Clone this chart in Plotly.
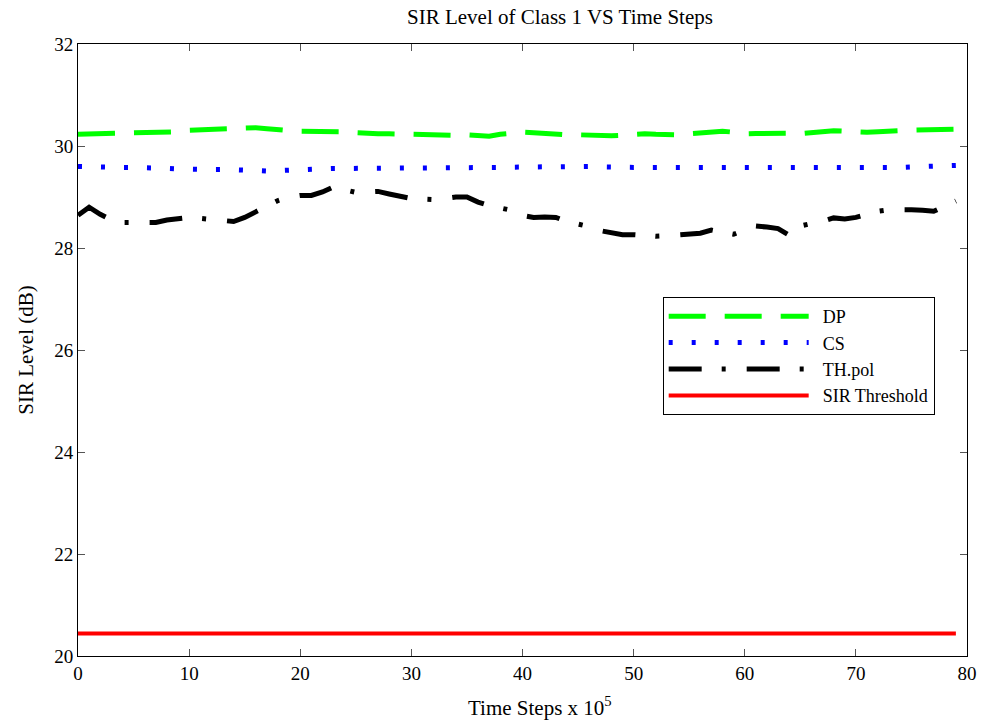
import plotly.graph_objects as go

x_steps = list(range(0, 80))

dp_values = [30.23, 30.235, 30.24, 30.24, 30.25, 30.26, 30.26, 30.26, 30.265, 30.28,
             30.31, 30.32, 30.33, 30.33, 30.34, 30.35, 30.36, 30.34, 30.31, 30.30,
             30.29, 30.29, 30.29, 30.29, 30.28, 30.26, 30.24, 30.24, 30.24, 30.235,
             30.23, 30.22, 30.21, 30.20, 30.21, 30.22, 30.21, 30.19, 30.23, 30.25,
             30.27, 30.26, 30.24, 30.22, 30.22, 30.22, 30.21, 30.20, 30.20, 30.21,
             30.23, 30.24, 30.23, 30.22, 30.22, 30.24, 30.26, 30.28, 30.29, 30.27,
             30.24, 30.245, 30.25, 30.26, 30.25, 30.24, 30.26, 30.28, 30.30, 30.29,
             30.27, 30.27, 30.28, 30.30, 30.30, 30.31, 30.31, 30.32, 30.33, 30.33]

cs_values = [29.60, 29.59, 29.58, 29.58, 29.58, 29.58, 29.58, 29.575, 29.56, 29.55,
             29.54, 29.54, 29.54, 29.54, 29.54, 29.54, 29.52, 29.51, 29.52, 29.54,
             29.55, 29.56, 29.56, 29.56, 29.56, 29.56, 29.57, 29.58, 29.58, 29.58,
             29.58, 29.58, 29.58, 29.57, 29.57, 29.56, 29.56, 29.57, 29.58, 29.585,
             29.59, 29.595, 29.60, 29.60, 29.60, 29.60, 29.60, 29.59, 29.58, 29.58,
             29.58, 29.58, 29.58, 29.58, 29.58, 29.58, 29.58, 29.58, 29.58, 29.58,
             29.58, 29.58, 29.58, 29.58, 29.57, 29.56, 29.56, 29.56, 29.57, 29.58,
             29.58, 29.58, 29.58, 29.58, 29.58, 29.59, 29.60, 29.61, 29.62, 29.62]

th_values = [28.64, 28.80, 28.66, 28.55, 28.50, 28.50, 28.52, 28.50, 28.55, 28.58,
             28.60, 28.58, 28.56, 28.56, 28.52, 28.60, 28.72, 28.82, 28.93, 29.00,
             29.03, 29.03, 29.10, 29.20, 29.14, 29.09, 29.10, 29.11, 29.06, 29.01,
             28.97, 28.96, 28.95, 28.97, 29.00, 29.00, 28.90, 28.83, 28.79, 28.74,
             28.64, 28.60, 28.61, 28.60, 28.52, 28.48, 28.42, 28.34, 28.31, 28.26,
             28.26, 28.24, 28.23, 28.24, 28.25, 28.27, 28.29, 28.35, 28.31, 28.27,
             28.35, 28.43, 28.41, 28.38, 28.25, 28.43, 28.48, 28.52, 28.59, 28.57,
             28.60, 28.66, 28.72, 28.75, 28.76, 28.75, 28.74, 28.72, 28.82, 28.92]

threshold_values = [20.44] * 80

series_names = ["DP", "CS", "TH.pol", "SIR Threshold"]
x_ticks = [0, 10, 20, 30, 40, 50, 60, 70, 80]
y_ticks = [20, 22, 24, 26, 28, 30, 32]

FONT = "Liberation Serif, Times New Roman, serif"
PAD = "\u00a0\u00a0"

fig = go.Figure()
fig.add_trace(go.Scatter(x=x_steps, y=dp_values, mode="lines", name=PAD + series_names[0],
                         line=dict(color="#00ff00", width=5, dash="37px,19px")))
fig.add_trace(go.Scatter(x=x_steps, y=cs_values, mode="lines", name=PAD + series_names[1],
                         line=dict(color="#0000ff", width=5, dash="4px,19px")))
fig.add_trace(go.Scatter(x=x_steps, y=th_values, mode="lines", name=PAD + series_names[2],
                         line=dict(color="#000000", width=5, dash="33px,20px,4px,21px")))
fig.add_trace(go.Scatter(x=x_steps, y=threshold_values, mode="lines", name=PAD + series_names[3],
                         line=dict(color="#ff0000", width=4)))

axis_common = dict(
    showgrid=False, zeroline=False, showline=True, linecolor="black", linewidth=1,
    mirror="ticks", ticks="inside", ticklen=7, tickcolor="#555555", tickwidth=1,
    tickfont=dict(family=FONT, size=19, color="black"),
)

plot_w = 989 - 78 - 20
plot_h = 720 - 44 - 64

fig.update_layout(
    width=989, height=720,
    margin=dict(l=78, r=20, t=44, b=64),
    paper_bgcolor="white", plot_bgcolor="white",
    font=dict(family=FONT, color="black"),
    title=dict(text="SIR Level of Class 1 VS Time Steps", x=560/989, xanchor="center",
               y=1 - 17/720, yanchor="middle", font=dict(family=FONT, size=21, color="black")),
    xaxis=dict(range=[0, 80], tickvals=x_ticks, **axis_common),
    yaxis=dict(range=[20, 32], tickvals=y_ticks,
               title=dict(text="SIR Level (dB)", font=dict(family=FONT, size=21), standoff=14),
               **axis_common),
    legend=dict(x=(664 - 78) / plot_w, y=(656 - 297) / plot_h, xanchor="left", yanchor="top",
                bgcolor="white", bordercolor="black", borderwidth=1,
                font=dict(family=FONT, size=18, color="black"),
                itemwidth=140, tracegroupgap=0),
    annotations=[dict(text="Time Steps x 10<sup>5</sup>", xref="paper", yref="paper",
                      x=(541 - 78) / plot_w, y=-50 / plot_h, xanchor="center", yanchor="middle",
                      showarrow=False, font=dict(family=FONT, size=21, color="black"))],
)

fig.write_html("out.html", config={"displayModeBar": False},
               post_script="document.body.style.margin='0';document.body.style.padding='0';"
                           "document.documentElement.style.overflow='hidden';")
